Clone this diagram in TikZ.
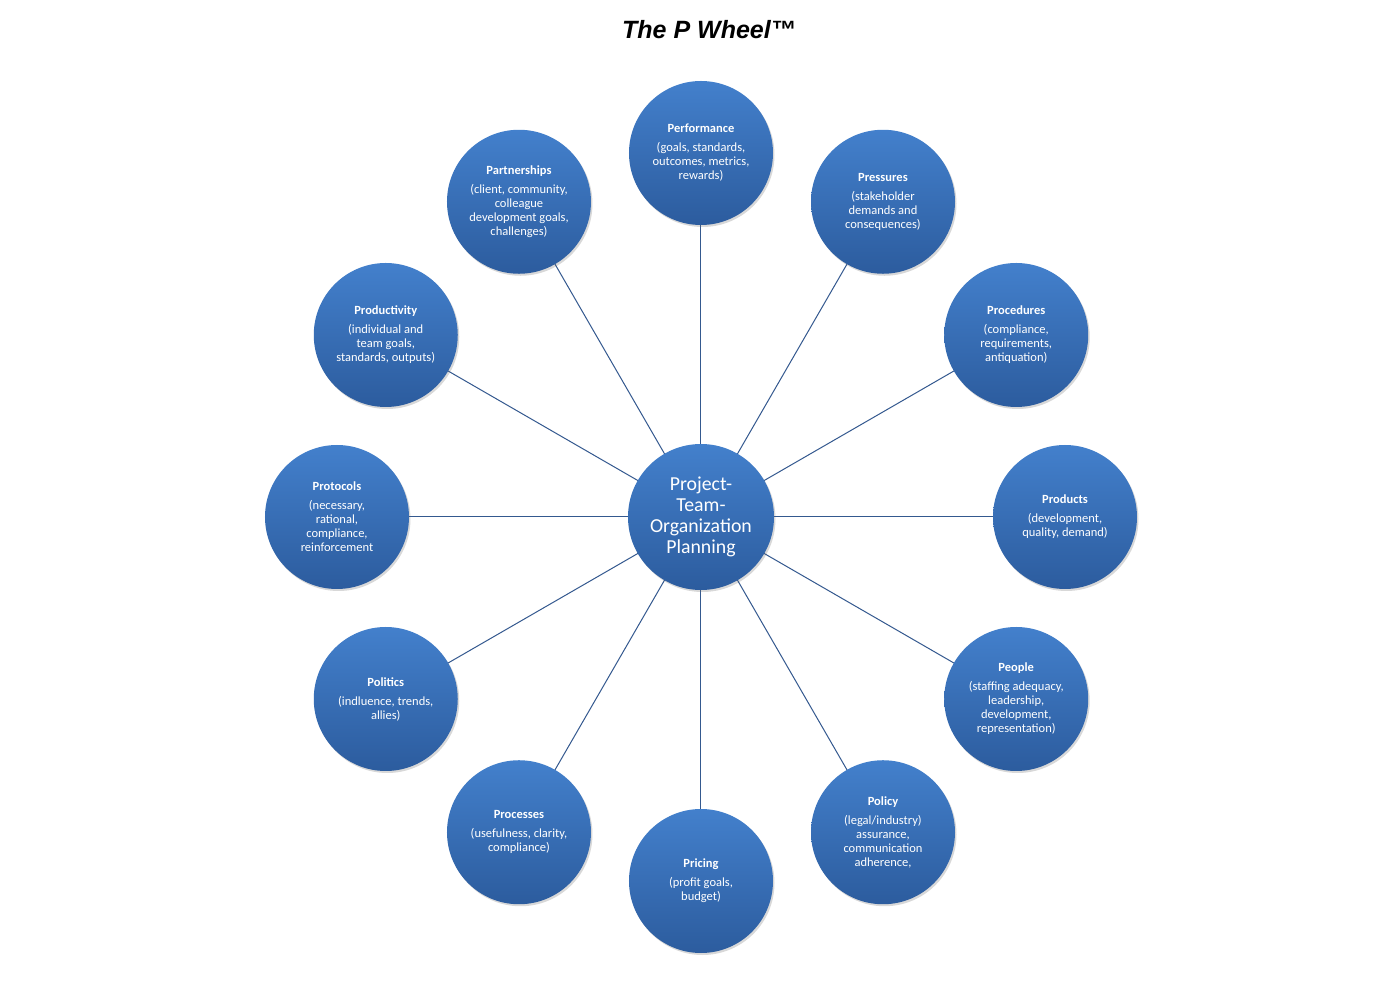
\documentclass[tikz,border=0pt]{standalone}
\usepackage{fontspec}
\setmainfont{Carlito}
\newfontfamily\titlefont{Liberation Sans}
\usetikzlibrary{shadows}
\definecolor{ctop}{HTML}{4380CC}
\definecolor{cbot}{HTML}{2C5C9E}
\definecolor{spoke}{HTML}{34598F}
\tikzset{
  bub/.style={circle, minimum size=144pt, inner sep=0pt, top color=ctop, bottom color=cbot,
    text=white, align=center, font=\fontsize{12.5}{14}\selectfont,
    drop shadow={shadow xshift=1.5pt, shadow yshift=-2pt, opacity=0.25, fill=black!60}},
  hub/.style={bub, minimum size=146pt, font=\fontsize{19.8}{21}\selectfont},
  spokeline/.style={draw=spoke, line width=1pt},
}
\newcommand{\hd}[1]{\textbf{#1}\\[5pt]}
\begin{document}
\begin{tikzpicture}[x=1pt,y=1pt]
\useasboundingbox (-701,-470) rectangle (699,517);
\fill[white] (-701,-470) rectangle (699,517);
\node[font=\titlefont\bfseries\itshape\fontsize{25}{28}\selectfont] (title) at (8,487) {The P Wheel™};
\def\R{364}
\coordinate (c) at (0,0);
\coordinate (pPerf) at (90:\R);
\coordinate (pPres) at (60:\R);
\coordinate (pProc) at (30:\R);
\coordinate (pProd) at (0:\R);
\coordinate (pPeop) at (-30:\R);
\coordinate (pPoli) at (-60:\R);
\coordinate (pPric) at (-90:\R);
\coordinate (pProcs) at (-120:\R);
\coordinate (pPolit) at (-150:\R);
\coordinate (pProt) at (180:\R);
\coordinate (pProdv) at (150:\R);
\coordinate (pPart) at (120:\R);
\foreach \p in {pPerf,pPres,pProc,pProd,pPeop,pPoli,pPric,pProcs,pPolit,pProt,pProdv,pPart}
  \draw[spokeline] (c) -- (\p);
\node[hub] (hub) at (c) {Project-\\Team-\\Organization\\Planning};
\node[bub] (perf) at (pPerf) {\hd{Performance}(goals, standards,\\outcomes, metrics,\\rewards)};
\node[bub] (pres) at (pPres) {\hd{Pressures}(stakeholder\\demands and\\consequences)};
\node[bub] (proc) at (pProc) {\hd{Procedures}(compliance,\\requirements,\\antiquation)};
\node[bub] (prod) at (pProd) {\hd{Products}(development,\\quality, demand)};
\node[bub] (peop) at (pPeop) {\hd{People}(staffing adequacy,\\leadership,\\development,\\representation)};
\node[bub] (poli) at (pPoli) {\hd{Policy}(legal/industry)\\assurance,\\communication\\adherence,};
\node[bub] (pric) at (pPric) {\hd{Pricing}(profit goals,\\budget)};
\node[bub] (procs) at (pProcs) {\hd{Processes}(usefulness, clarity,\\compliance)};
\node[bub] (polit) at (pPolit) {\hd{Politics}(indluence, trends,\\allies)};
\node[bub] (prot) at (pProt) {\hd{Protocols}(necessary,\\rational,\\compliance,\\reinforcement};
\node[bub] (prodv) at (pProdv) {\hd{Productivity}(individual and\\team goals,\\standards, outputs)};
\node[bub] (part) at (pPart) {\hd{Partnerships}(client, community,\\colleague\\development goals,\\challenges)};
\end{tikzpicture}
\end{document}
